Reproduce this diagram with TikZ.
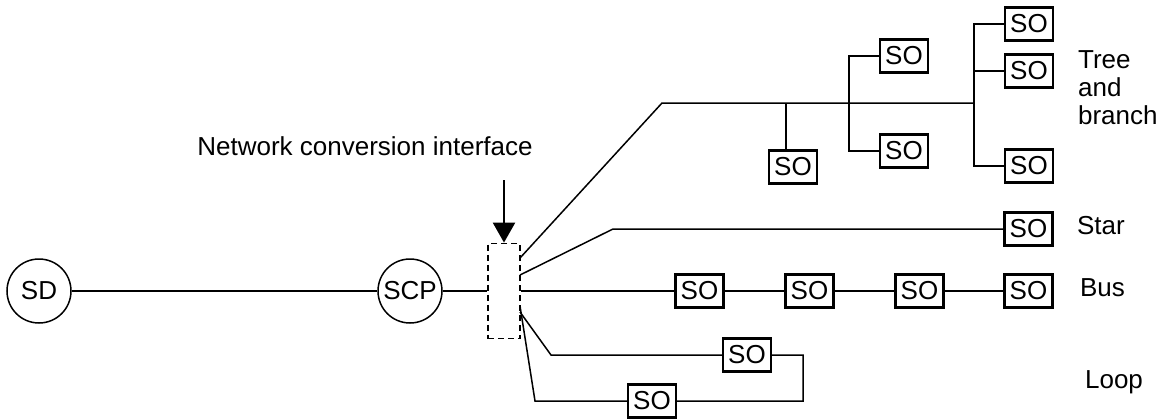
\documentclass[tikz,border=0pt]{standalone}
\usepackage{fontspec}
\setmainfont{Liberation Sans}
\usetikzlibrary{arrows.meta}
\begin{document}
\begin{tikzpicture}[x=1pt,y=-1pt,line width=1.5pt,
	every node/.style={font=\fontsize{26}{28}\selectfont},
	station/.style={draw, circle, minimum size=64pt, inner sep=0pt},
	sobox/.style={draw, line width=2.2pt, fill=white, minimum width=48pt, minimum height=33pt, inner sep=0pt},
	convbox/.style={draw, dash pattern=on 6pt off 4pt, line width=1.8pt, minimum width=32pt, minimum height=95pt, inner sep=0pt},
	topo/.style={anchor=west, align=left}
	]
	\useasboundingbox (0,0) rectangle (1159,418);
	% stations
	\node[station] (sd) at (39,291) {SD};
	\node[station] (scp) at (410,291) {SCP};
	\node[convbox] (nci) at (504,291) {};
	\node (ncilbl) at (365,146) {Network conversion interface};
	\coordinate (arrtop) at (504,180);
	\draw[line width=2.4pt, -{Triangle[width=22pt,length=20pt]}] (arrtop) -- (nci.north);
	\draw (sd) -- (scp) -- (nci);
	% tree and branch
	\coordinate (tA) at (520,258);
	\coordinate (tB) at (662,103);
	\coordinate (j1) at (786,103);
	\coordinate (j2) at (849,103);
	\coordinate (j3) at (974,103);
	\node[sobox] (so1) at (793,167) {SO};
	\node[sobox] (so2) at (904,56) {SO};
	\node[sobox] (so3) at (904,151) {SO};
	\node[sobox] (so4) at (1029,24) {SO};
	\node[sobox] (so5) at (1029,71) {SO};
	\node[sobox] (so6) at (1029,166) {SO};
	\draw (tA) -- (tB) -- (j3);
	\draw (j1) -- (j1 |- so1.north);
	\draw (so2.west) -| (j2) |- (so3.west);
	\draw (so4.west) -| (j3) |- (so6.west);
	\draw (so5.west) -- (so5.west -| j3);
	\node[topo] (treelbl) at (1074,88) {Tree\\and\\branch};
	% star
	\coordinate (sA) at (520,275);
	\coordinate (sB) at (613,229);
	\node[sobox] (st) at (1028.5,229) {SO};
	\draw (sA) -- (sB) -- (st);
	\node[topo] (starlbl) at (1073,226) {Star};
	% bus
	\node[sobox] (b1) at (699.5,291) {SO};
	\node[sobox] (b2) at (809.5,291) {SO};
	\node[sobox] (b3) at (919.5,291) {SO};
	\node[sobox] (b4) at (1028.5,291) {SO};
	\draw (nci) -- (b1) -- (b2) -- (b3) -- (b4);
	\node[topo] (buslbl) at (1076,288) {Bus};
	% loop
	\coordinate (lA) at (520,312);
	\coordinate (lB) at (551,355);
	\coordinate (lC) at (803,355);
	\coordinate (lD) at (535,401);
	\coordinate (lE) at (520,306);
	\node[sobox] (l1) at (747,355) {SO};
	\node[sobox] (l2) at (652,401) {SO};
	\draw (lA) -- (lB) -- (l1) -- (lC) |- (l2.east);
	\draw (l2) -- (lD) -- (lE);
	\node[topo] (looplbl) at (1081,382) {Loop};
\end{tikzpicture}
\end{document}
